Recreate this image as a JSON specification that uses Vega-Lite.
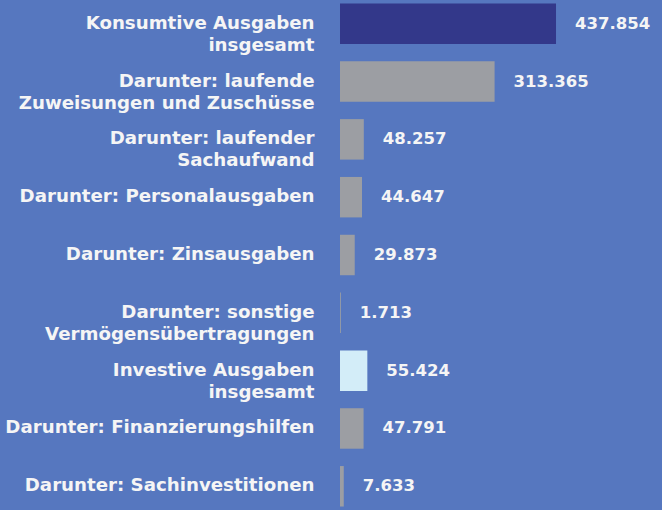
{
  "$schema": "https://vega.github.io/schema/vega-lite/v6.json",
  "autosize": {"type": "none"},
  "width": 322,
  "height": 510,
  "padding": {"left": 340, "top": 0, "right": 0, "bottom": 0},
  "background": "#5677bf",
  "config": {
    "view": {"stroke": null},
    "font": "DejaVu Sans",
    "locale": {"number": {"decimal": ",", "thousands": ".", "grouping": [3], "currency": ["", " €"]}}
  },
  "data": {
    "values": [
      {"label": "Konsumtive Ausgaben|insgesamt", "wert": 437854, "typ": "konsumtiv"},
      {"label": "Darunter: laufende|Zuweisungen und Zuschüsse", "wert": 313365, "typ": "darunter"},
      {"label": "Darunter: laufender|Sachaufwand", "wert": 48257, "typ": "darunter"},
      {"label": "Darunter: Personalausgaben", "wert": 44647, "typ": "darunter"},
      {"label": "Darunter: Zinsausgaben", "wert": 29873, "typ": "darunter"},
      {"label": "Darunter: sonstige|Vermögensübertragungen", "wert": 1713, "typ": "darunter"},
      {"label": "Investive Ausgaben|insgesamt", "wert": 55424, "typ": "investiv"},
      {"label": "Darunter: Finanzierungshilfen", "wert": 47791, "typ": "darunter"},
      {"label": "Darunter: Sachinvestitionen", "wert": 7633, "typ": "darunter"}
    ]
  },
  "encoding": {
    "y": {
      "field": "label",
      "type": "nominal",
      "sort": null,
      "scale": {"paddingInner": 0.3, "paddingOuter": 0.06},
      "axis": {
        "title": null,
        "domain": false,
        "ticks": false,
        "labelPadding": 26,
        "labelLimit": 400,
        "labelFont": "DejaVu Sans",
        "labelFontSize": 18.2,
        "labelFontWeight": "bold",
        "labelColor": "#f5f5f5",
        "labelLineHeight": 22,
        "labelExpr": "split(datum.value, '|')"
      }
    },
    "x": {
      "field": "wert",
      "type": "quantitative",
      "scale": {"domain": [0, 652700], "nice": false},
      "axis": null
    }
  },
  "layer": [
    {
      "mark": {"type": "bar"},
      "encoding": {
        "color": {
          "field": "typ",
          "type": "nominal",
          "scale": {"domain": ["konsumtiv", "darunter", "investiv"], "range": ["#33388a", "#9c9ea3", "#d3edf8"]},
          "legend": null
        }
      }
    },
    {
      "mark": {"type": "text", "align": "left", "baseline": "middle", "dx": 19, "font": "DejaVu Sans", "fontSize": 16.5, "fontWeight": "bold", "color": "#f5f5f5"},
      "encoding": {
        "text": {"field": "wert", "type": "quantitative", "format": ",d"}
      }
    }
  ]
}
